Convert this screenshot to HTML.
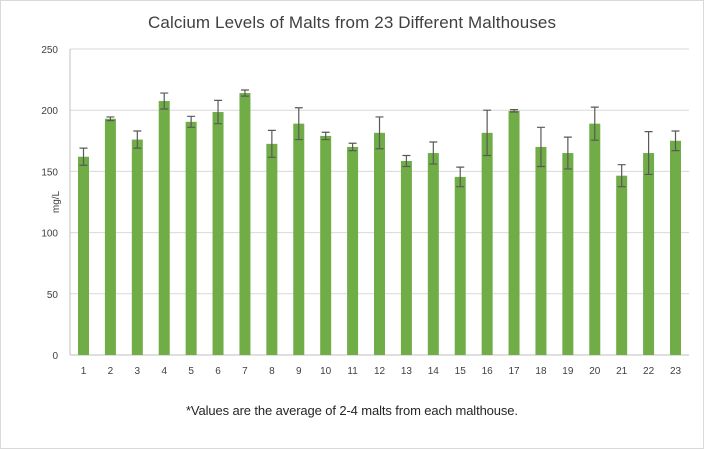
<!DOCTYPE html>
<html><head><meta charset="utf-8"><style>
html,body{margin:0;padding:0;background:#fff;}
svg{display:block;font-family:"Liberation Sans",sans-serif;}
</style></head><body>
<svg id="chart" width="704" height="449">
<rect x="0.5" y="0.5" width="703" height="448" fill="#fff" stroke="#d9d9d9"/>
<text x="352" y="28" text-anchor="middle" font-size="17" textLength="408" fill="#404040">Calcium Levels of Malts from 23 Different Malthouses</text>
<text transform="translate(59,202) rotate(-90)" text-anchor="middle" font-size="10" fill="#404040">mg/L</text>
<text x="352" y="415" text-anchor="middle" font-size="13" textLength="332" fill="#262626">*Values are the average of 2-4 malts from each malthouse.</text>
<g id="grid"></g><g id="bars"></g><g id="labels"></g>
</svg>
<script>
const categories=["1","2","3","4","5","6","7","8","9","10","11","12","13","14","15","16","17","18","19","20","21","22","23"];
const values=[162,193,176,207.5,190.5,198.5,214,172.5,189,179,170,181.5,158.5,165,145.5,181.5,199.5,170,165,189,146.5,165,175];
const errors=[7,1.5,7,6.5,4.5,9.5,2.5,11,13,3,3,13,4.5,9,8,18.5,1,16,13,13.5,9,17.5,8];
const yTicks=[0,50,100,150,200,250];
const NS="http://www.w3.org/2000/svg";
const x0=70,x1=689,yBase=355,yTop=49,yMax=250;
const y=v=>yBase-(v/yMax)*(yBase-yTop);
const xc=i=>83.5+i*((675.5-83.5)/(categories.length-1));
function mk(tag,attrs,parent){const e=document.createElementNS(NS,tag);for(const k in attrs)e.setAttribute(k,attrs[k]);parent.appendChild(e);return e;}
const grid=document.getElementById('grid'),bars=document.getElementById('bars'),labels=document.getElementById('labels');
yTicks.forEach(t=>{
  if(t>0){const g=mk('line',{x1:x0,x2:x1,y1:y(t),y2:y(t),stroke:'#d9d9d9','stroke-width':1},grid);
  
  }
  const tl=mk('text',{x:58,y:y(t)+4,'text-anchor':'end','font-size':10,fill:'#404040'},labels);
  tl.textContent=t;
  
  
});
const ax=mk('line',{x1:x0,x2:x0,y1:yTop,y2:yBase,stroke:'#bfbfbf','stroke-width':1},grid);


const bx=mk('line',{x1:x0,x2:x1,y1:yBase,y2:yBase,stroke:'#bfbfbf','stroke-width':1},grid);


categories.forEach((c,i)=>{
  const cx=xc(i),w=11;
  const r=mk('rect',{x:cx-w/2,y:y(values[i]),width:w,height:yBase-y(values[i]),fill:'#70ad47'},bars);
  
  
  const hi=y(values[i]+errors[i]),lo=y(values[i]-errors[i]);
  const eb=mk('path',{d:`M${cx},${hi}V${lo}M${cx-4},${hi}H${cx+4}M${cx-4},${lo}H${cx+4}`,stroke:'#595959','stroke-width':1.2,fill:'none'},bars);
  
  
  const t=mk('text',{x:cx,y:374,'text-anchor':'middle','font-size':10,fill:'#404040'},labels);
  t.textContent=c;
  
  
});
</script>
</body></html>
